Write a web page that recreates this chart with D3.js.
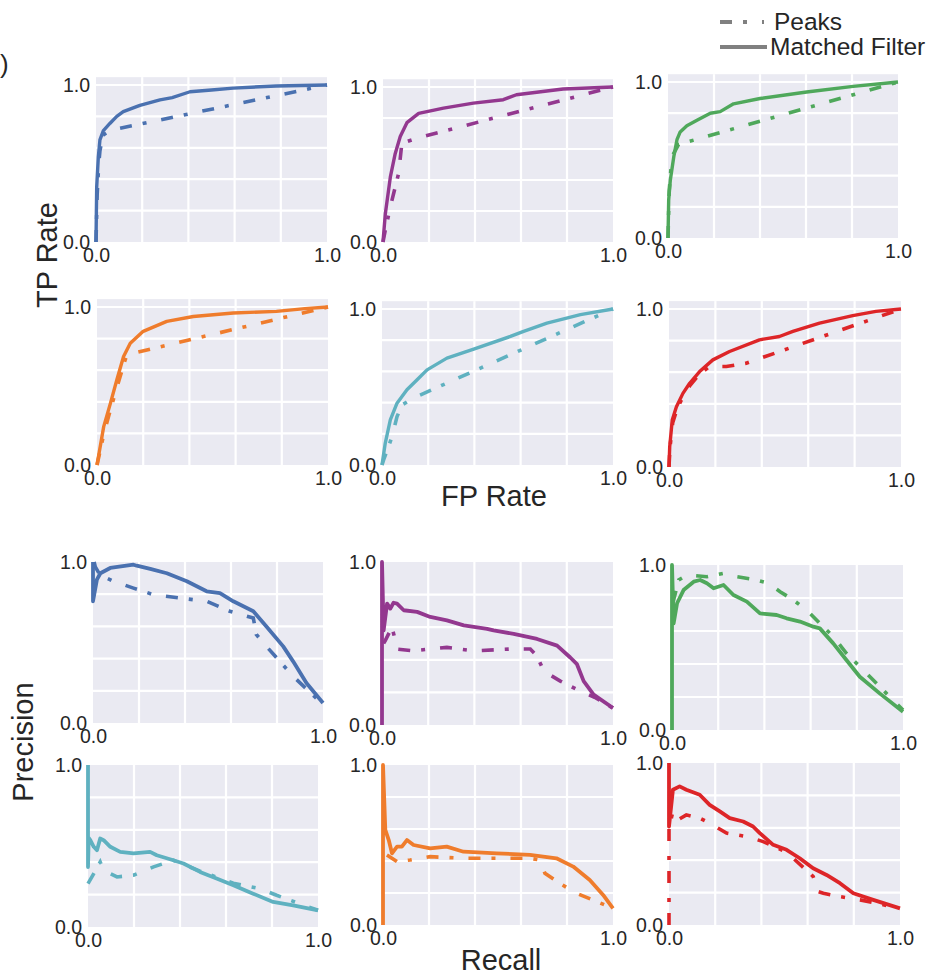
<!DOCTYPE html>
<html>
<head>
<meta charset="utf-8">
<script src="https://cdn.jsdelivr.net/npm/d3@7"></script>
<style>
  body { margin: 0; background: #fff; }
  svg text { font-family: Arial, "Liberation Sans", Helvetica, sans-serif; fill: #262626; }
</style>
</head>
<body>
<svg id="chart" width="932" height="976"></svg>
<script>

// ---- data: [x, y] pairs ----
// ROC curves (FP rate, TP rate)
var rocBlueMF    = [[0,0],[0.003,0.35],[0.01,0.54],[0.017,0.65],[0.032,0.71],[0.06,0.755],[0.09,0.8],[0.118,0.83],[0.19,0.87],[0.277,0.905],[0.33,0.92],[0.407,0.957],[0.5,0.968],[0.594,0.98],[0.78,0.994],[1,1]];
var rocBluePeaks = [[0,0],[0.005,0.3],[0.012,0.5],[0.017,0.58],[0.03,0.68],[0.06,0.71],[0.104,0.724],[1,1]];
var rocPurpleMF    = [[0,0],[0.01,0.18],[0.032,0.42],[0.053,0.57],[0.075,0.68],[0.104,0.77],[0.155,0.83],[0.263,0.864],[0.393,0.896],[0.523,0.918],[0.58,0.95],[0.783,0.987],[1,1]];
var rocPurplePeaks = [[0,0],[0.01,0.076],[0.032,0.227],[0.068,0.443],[0.082,0.637],[0.147,0.67],[1,1]];
var rocGreenMF    = [[0,0],[0.003,0.245],[0.01,0.37],[0.025,0.52],[0.039,0.63],[0.053,0.68],[0.082,0.72],[0.126,0.755],[0.184,0.8],[0.227,0.81],[0.285,0.86],[0.4,0.894],[0.603,0.936],[0.805,0.972],[1,1]];
var rocGreenPeaks = [[0,0],[0.005,0.3],[0.01,0.39],[0.017,0.52],[0.046,0.6],[1,1]];
var rocOrangeMF    = [[0,0],[0.029,0.243],[0.058,0.39],[0.086,0.54],[0.115,0.687],[0.144,0.77],[0.2,0.846],[0.302,0.909],[0.417,0.94],[0.59,0.962],[0.777,0.972],[0.9,0.99],[1,1]];
var rocOrangePeaks = [[0,0],[0.03,0.2],[0.06,0.36],[0.09,0.51],[0.122,0.666],[0.13,0.698],[1,1]];
var rocTealMF    = [[0,0],[0.014,0.139],[0.036,0.289],[0.065,0.396],[0.108,0.482],[0.152,0.546],[0.195,0.61],[0.281,0.685],[0.397,0.743],[0.556,0.824],[0.613,0.857],[0.714,0.91],[0.859,0.964],[1,1]];
var rocTealPeaks = [[0,0],[0.007,0.032],[0.043,0.18],[0.065,0.31],[0.087,0.385],[0.137,0.43],[1,1]];
var rocRedMF    = [[0,0],[0.003,0.127],[0.014,0.297],[0.032,0.381],[0.06,0.466],[0.089,0.53],[0.132,0.604],[0.189,0.678],[0.261,0.731],[0.39,0.805],[0.476,0.826],[0.534,0.858],[0.649,0.911],[0.792,0.958],[0.892,0.985],[1,1]];
var rocRedPeaks = [[0,0],[0.004,0.12],[0.016,0.28],[0.035,0.37],[0.062,0.45],[0.09,0.515],[0.132,0.59],[0.175,0.636],[0.247,0.636],[0.333,0.657],[1,1]];

// precision-recall curves (recall, precision)
var prBlueMF    = [[0,1],[0,0.756],[0.017,0.89],[0.032,0.93],[0.075,0.963],[0.176,0.983],[0.19,0.977],[0.249,0.957],[0.321,0.93],[0.408,0.88],[0.494,0.818],[0.552,0.807],[0.61,0.756],[0.697,0.694],[0.754,0.6],[0.827,0.476],[0.87,0.383],[0.928,0.248],[1,0.124]];
var prBluePeaks = [[0.005,1],[0.01,0.97],[0.03,0.92],[0.09,0.88],[0.176,0.838],[0.263,0.797],[0.379,0.776],[0.494,0.756],[0.595,0.694],[0.697,0.652],[0.71,0.55],[0.754,0.476],[0.812,0.383],[0.87,0.29],[1,0.114]];
var prPurpleMF    = [[0,0],[0,1],[0.007,0.58],[0.022,0.745],[0.036,0.714],[0.05,0.75],[0.065,0.745],[0.094,0.704],[0.152,0.694],[0.209,0.663],[0.281,0.642],[0.354,0.611],[0.455,0.59],[0.483,0.58],[0.57,0.559],[0.671,0.528],[0.758,0.487],[0.815,0.414],[0.844,0.373],[0.873,0.269],[0.916,0.186],[1,0.104]];
var prPurplePeaks = [[0.007,0.5],[0.014,0.518],[0.043,0.6],[0.058,0.518],[0.065,0.466],[0.137,0.455],[0.2,0.465],[0.281,0.476],[0.397,0.455],[0.556,0.466],[0.642,0.466],[0.671,0.424],[0.7,0.331],[0.772,0.269],[0.859,0.207],[0.92,0.17],[1,0.104]];
var prGreenMF    = [[0,0],[0,1],[0.007,0.646],[0.022,0.768],[0.05,0.848],[0.094,0.899],[0.122,0.909],[0.151,0.889],[0.18,0.859],[0.223,0.879],[0.266,0.818],[0.324,0.778],[0.381,0.707],[0.453,0.697],[0.496,0.677],[0.554,0.657],[0.612,0.626],[0.64,0.616],[0.698,0.525],[0.755,0.424],[0.813,0.323],[0.899,0.222],[1,0.111]];
var prGreenPeaks = [[0,0.8],[0.007,0.788],[0.029,0.909],[0.065,0.939],[0.151,0.929],[0.223,0.949],[0.28,0.929],[0.353,0.913],[0.417,0.889],[0.468,0.838],[0.525,0.788],[0.583,0.727],[0.64,0.646],[0.698,0.566],[0.755,0.465],[0.813,0.384],[0.871,0.303],[0.928,0.222],[1,0.121]];
var prTealMF    = [[0,1],[0,0.37],[0.003,0.55],[0.01,0.536],[0.025,0.495],[0.039,0.474],[0.053,0.546],[0.068,0.536],[0.097,0.495],[0.14,0.464],[0.198,0.454],[0.27,0.464],[0.299,0.443],[0.371,0.412],[0.415,0.392],[0.487,0.34],[0.559,0.299],[0.632,0.258],[0.718,0.206],[0.805,0.155],[0.892,0.134],[1,0.103]];
var prTealPeaks = [[0,0.268],[0.025,0.33],[0.053,0.402],[0.068,0.35],[0.126,0.309],[0.198,0.32],[0.285,0.371],[0.371,0.412],[0.487,0.345],[0.632,0.27],[0.747,0.237],[0.82,0.196],[1,0.103]];
var prOrangeMF    = [[0,0],[0,1],[0.01,0.594],[0.025,0.531],[0.039,0.448],[0.061,0.49],[0.082,0.49],[0.104,0.531],[0.133,0.5],[0.205,0.479],[0.277,0.49],[0.35,0.458],[0.494,0.448],[0.639,0.438],[0.754,0.417],[0.827,0.365],[0.899,0.281],[0.957,0.188],[1,0.104]];
var prOrangePeaks = [[0.017,0.438],[0.061,0.396],[0.118,0.406],[0.205,0.427],[0.35,0.417],[0.494,0.417],[0.639,0.417],[0.682,0.406],[0.704,0.323],[0.769,0.26],[0.841,0.198],[0.913,0.156],[1,0.104]];
var prRedMF    = [[0,1],[0,0.608],[0.017,0.835],[0.046,0.856],[0.075,0.835],[0.133,0.804],[0.176,0.742],[0.22,0.701],[0.263,0.66],[0.321,0.639],[0.364,0.608],[0.393,0.567],[0.451,0.495],[0.509,0.464],[0.566,0.412],[0.624,0.35],[0.682,0.309],[0.74,0.258],[0.798,0.196],[0.884,0.155],[1,0.103]];
var prRedPeaks = [[0,0],[0,0.6],[0.017,0.701],[0.039,0.649],[0.075,0.68],[0.133,0.66],[0.176,0.629],[0.249,0.567],[0.335,0.546],[0.408,0.515],[0.509,0.45],[0.624,0.3],[0.646,0.206],[0.668,0.196],[0.74,0.175],[0.827,0.155],[1,0.103]];

var tickLabels = [0, 1];
var gridValues = [0.2, 0.4, 0.6, 0.8, 1.0];
var seriesNames = ["Peaks", "Matched Filter"];

// ---- panel set up (colour + data) ----
var colours = { blue: "#4a71b0", purple: "#93388f", green: "#4fa85b", orange: "#ef7c2c", teal: "#5fb1c0", red: "#dd2528" };

var panels = [
  { kind: "roc", colour: colours.blue,   mf: rocBlueMF,   peaks: rocBluePeaks },
  { kind: "roc", colour: colours.purple, mf: rocPurpleMF, peaks: rocPurplePeaks },
  { kind: "roc", colour: colours.green,  mf: rocGreenMF,  peaks: rocGreenPeaks },
  { kind: "roc", colour: colours.orange, mf: rocOrangeMF, peaks: rocOrangePeaks },
  { kind: "roc", colour: colours.teal,   mf: rocTealMF,   peaks: rocTealPeaks },
  { kind: "roc", colour: colours.red,    mf: rocRedMF,    peaks: rocRedPeaks },
  { kind: "pr",  colour: colours.blue,   mf: prBlueMF,    peaks: prBluePeaks },
  { kind: "pr",  colour: colours.purple, mf: prPurpleMF,  peaks: prPurplePeaks },
  { kind: "pr",  colour: colours.green,  mf: prGreenMF,   peaks: prGreenPeaks },
  { kind: "pr",  colour: colours.teal,   mf: prTealMF,    peaks: prTealPeaks },
  { kind: "pr",  colour: colours.orange, mf: prOrangeMF,  peaks: prOrangePeaks },
  { kind: "pr",  colour: colours.red,    mf: prRedMF,     peaks: prRedPeaks }
];

// where each axes box sits on the page (left/right = x 0..1, y1/y0 = y 1.0 / 0.0)
var frames = [
  { l: 96,  r: 327, y1: 85,  y0: 242 },
  { l: 383, r: 613, y1: 87,  y0: 242 },
  { l: 668, r: 898, y1: 82,  y0: 238 },
  { l: 97,  r: 328, y1: 307, y0: 465 },
  { l: 382, r: 613, y1: 309, y0: 465 },
  { l: 669, r: 901, y1: 309, y0: 467 },
  { l: 93,  r: 323, y1: 562, y0: 723 },
  { l: 382, r: 613, y1: 562, y0: 725 },
  { l: 672, r: 903, y1: 565, y0: 730 },
  { l: 88,  r: 318, y1: 765, y0: 927 },
  { l: 383, r: 613, y1: 765, y0: 925 },
  { l: 669, r: 900, y1: 763, y0: 925 }
];

var peaksDash = "12,11,4,15";

function drawGraphic() {

  var svg = d3.select("#chart");

  panels.forEach(function(p, i) {
    var f = frames[i];
    var ymax = p.kind == "roc" ? 1.05 : 1.0;

    var x = d3.scaleLinear().domain([0, 1]).range([0, f.r - f.l]);
    var y = d3.scaleLinear().domain([0, 1]).range([f.y0 - f.y1, 0]);
    var h = y(0) - y(ymax);
    var w = x(1);

    var g = svg.append("g")
      .attr("transform", "translate(" + f.l + "," + f.y1 + ")");

    // background
    g.append("rect")
      .attr("x", 0).attr("y", y(ymax))
      .attr("width", w).attr("height", h)
      .attr("fill", "#eaeaf2");

    // grid
    var gy = gridValues.filter(function(v) { return v < ymax; });
    g.selectAll(".hgrid").data(gy).enter().append("line")
      .attr("class", "hgrid")
      .attr("x1", 0).attr("x2", w)
      .attr("y1", function(d) { return y(d); })
      .attr("y2", function(d) { return y(d); })
      .attr("stroke", "#fff").attr("stroke-width", 2.2);
    g.selectAll(".vgrid").data(gridValues.slice(0, 4)).enter().append("line")
      .attr("class", "vgrid")
      .attr("y1", y(ymax)).attr("y2", y(0))
      .attr("x1", function(d) { return x(d); })
      .attr("x2", function(d) { return x(d); })
      .attr("stroke", "#fff").attr("stroke-width", 2.2);

    // tick labels (0.0 and 1.0 only)
    var ax = g.append("g")
      .attr("transform", "translate(0," + y(0) + ")")
      .call(d3.axisBottom(x).tickValues(tickLabels).tickSize(0).tickPadding(6).tickFormat(d3.format(".1f")));
    var ay = g.append("g")
      .call(d3.axisLeft(y).tickValues(tickLabels).tickSize(0).tickPadding(6).tickFormat(d3.format(".1f")));
    [ax, ay].forEach(function(a) {
      a.select(".domain").remove();
      a.selectAll("text").attr("font-size", 19.5).attr("fill", "#262626")
        .attr("font-family", "Arial, 'Liberation Sans', sans-serif");
    });

    var line = d3.line()
      .x(function(d) { return x(d[0]); })
      .y(function(d) { return y(d[1]); });

    g.append("path")
      .datum(p.peaks)
      .attr("d", line)
      .attr("fill", "none")
      .attr("stroke", p.colour)
      .attr("stroke-width", 3.6)
      .attr("stroke-dasharray", peaksDash);

    g.append("path")
      .datum(p.mf)
      .attr("d", line)
      .attr("fill", "none")
      .attr("stroke", p.colour)
      .attr("stroke-width", p.kind == "roc" ? 3.4 : 3.8)
      .attr("stroke-linejoin", "round");
  });

  // axis titles
  svg.append("text")
    .attr("transform", "translate(57,255) rotate(-90)")
    .attr("text-anchor", "middle")
    .attr("font-size", 29)
    .text("TP Rate");

  svg.append("text")
    .attr("x", 494).attr("y", 506)
    .attr("text-anchor", "middle")
    .attr("font-size", 29)
    .text("FP Rate");

  svg.append("text")
    .attr("transform", "translate(33,742) rotate(-90)")
    .attr("text-anchor", "middle")
    .attr("font-size", 29)
    .text("Precision");

  svg.append("text")
    .attr("x", 501).attr("y", 970)
    .attr("text-anchor", "middle")
    .attr("font-size", 29)
    .text("Recall");

  // remnant of the panel letter at the left edge
  svg.append("text")
    .attr("x", 0).attr("y", 73)
    .attr("font-size", 26)
    .text(")");

  // legend
  var legend = svg.append("g").attr("transform", "translate(720,0)");
  seriesNames.forEach(function(name, i) {
    var ly = 22 + i * 25;
    legend.append("line")
      .attr("x1", 0).attr("x2", i == 0 ? 44 : 47)
      .attr("y1", ly).attr("y2", ly)
      .attr("stroke", "#808080")
      .attr("stroke-width", 4)
      .attr("stroke-dasharray", i == 0 ? peaksDash : null);
    legend.append("text")
      .attr("x", i == 0 ? 54 : 50)
      .attr("y", ly + 8)
      .attr("font-size", 24.5)
      .text(name);
  });
}

drawGraphic();
</script>
</body>
</html>
